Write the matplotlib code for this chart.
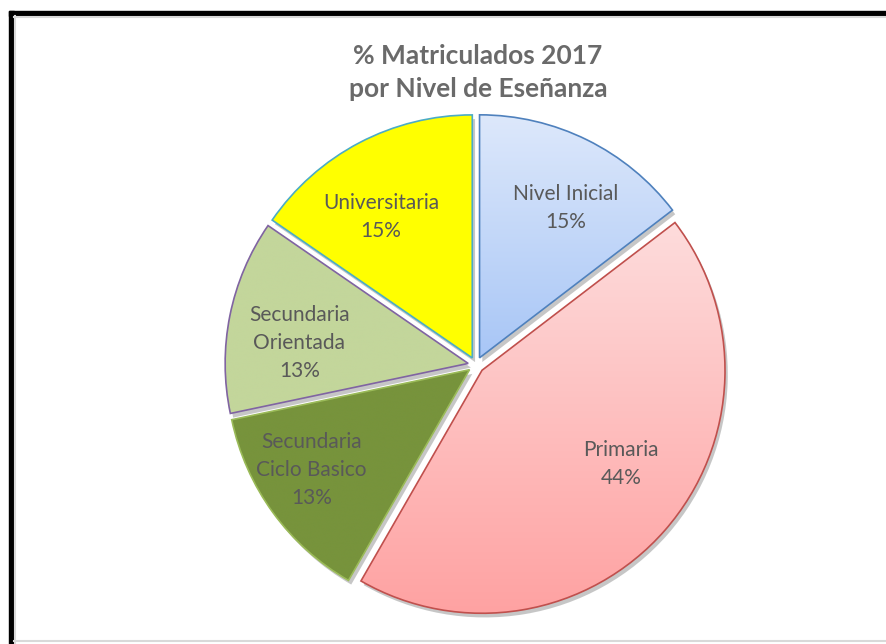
import matplotlib
matplotlib.use("Agg")
import matplotlib.pyplot as plt
import matplotlib.patches as mpatches
import matplotlib.patheffects as pe
from matplotlib.colors import LinearSegmentedColormap
import numpy as np

# data (percent of enrolled students, 2017)
niveles = ["Nivel Inicial", "Primaria", "Secundaria\nCiclo Basico",
           "Secundaria\nOrientada", "Universitaria"]
porcentajes = [14.6, 43.7, 13.4, 12.9, 15.4]

# slice look: top / bottom gradient colour and edge colour
color_arriba = ["#dde8fb", "#fddcdc", "#77933c", "#c3d69b", "#ffff00"]
color_abajo = ["#a8c6f6", "#ffa2a2", "#77933c", "#c3d69b", "#ffff00"]
color_borde = ["#4f81bd", "#c0504d", "#9bbb59", "#8064a2", "#4bacc6"]

# where each label sits inside its slice (fraction of radius, angle nudge in deg)
dist_etiqueta = [0.71, 0.69, 0.77, 0.70, 0.69]
giro_etiqueta = [-3.7, 7.3, -3.6, 4.5, 5.3]

titulo = "% Matriculados 2017\npor Nivel de Eseñanza"
gris_texto = "#595959"

W, H = 886, 644
fig = plt.figure(figsize=(W / 100, H / 100), dpi=100)
ax = fig.add_axes([0, 0, 1, 1])

centro = (476, H - 365)
radio = 243

wedges, _ = ax.pie(porcentajes, startangle=90, counterclock=False,
                   explode=[8] * len(porcentajes),
                   center=centro, radius=radio, frame=True,
                   colors=color_abajo,
                   wedgeprops=dict(linewidth=0))
ax.set_aspect("auto")
ax.axis("off")

for i, w in enumerate(wedges):
    w.set_path_effects([pe.SimplePatchShadow(offset=(2, -3), shadow_rgbFace="#8f8f8f",
                                             alpha=0.5), pe.Normal()])
    w.set_zorder(1)

    # vertical gradient inside the slice
    bb = w.get_path().get_extents()
    cmap = LinearSegmentedColormap.from_list("g%d" % i, [color_abajo[i], color_arriba[i]])
    grad = np.linspace(0, 1, 256).reshape(-1, 1)
    im = ax.imshow(grad, extent=[bb.x0, bb.x1, bb.y0, bb.y1], origin="lower",
                   cmap=cmap, aspect="auto", zorder=2, interpolation="bicubic")
    im.set_clip_path(w)

    borde = mpatches.PathPatch(w.get_path(), facecolor="none",
                               edgecolor=color_borde[i], linewidth=1.2, zorder=3)
    ax.add_patch(borde)

    # label inside the slice
    theta = np.deg2rad((w.theta1 + w.theta2) / 2 + giro_etiqueta[i])
    cx, cy = w.center
    d = dist_etiqueta[i] * radio
    pct = "%.0f%%" % porcentajes[i]
    ax.text(cx + d * np.cos(theta), cy + d * np.sin(theta),
            niveles[i] + "\n" + pct, ha="center", va="center",
            fontsize=15, family="Lato", color=gris_texto,
            linespacing=1.5, zorder=4)

ax.set_xlim(0, W)
ax.set_ylim(0, H)

ax.text(W / 2 + 35, H - 72, titulo, ha="center", va="center",
        fontsize=19, family="Lato", fontweight="bold", color="#6a6a6a",
        linespacing=1.45)

# frame of the original sheet
ax.add_patch(mpatches.Rectangle((9, H - 16), W, 5, color="black", clip_on=False))
ax.add_patch(mpatches.Rectangle((9, 0), 5, H - 11, color="black", clip_on=False))
ax.plot([14, W], [H - 17, H - 17], color="#d9d9d9", lw=1.5)
ax.plot([14.8, 14.8], [0, H - 16], color="#d9d9d9", lw=1.5)
ax.plot([14, W], [3.5, 3.5], color="#d9d9d9", lw=1.5)

fig.savefig("out.png", dpi=100, facecolor="white")
